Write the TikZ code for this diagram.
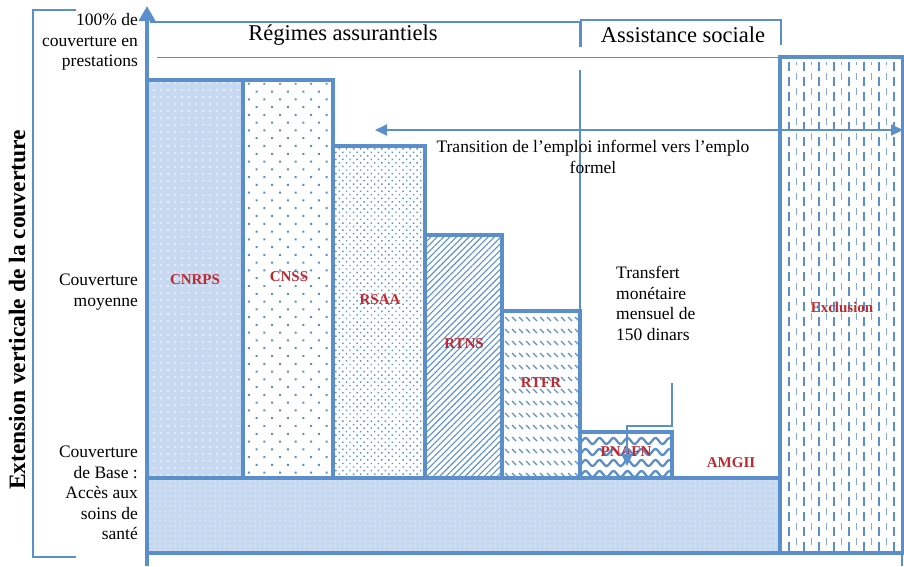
\documentclass[tikz,border=0pt]{standalone}
\usepackage{fontspec}
\setmainfont{Liberation Serif}
\usetikzlibrary{arrows.meta,patterns.meta,positioning}
\definecolor{barblue}{HTML}{5B8FCB}
\definecolor{lightfill}{HTML}{C6D9F0}
\definecolor{labred}{HTML}{C0282E}
\tikzset{
  bar/.style={draw=barblue, line width=3.5pt},
  frame/.style={draw=barblue, line width=1.8pt},
  lab/.style={text=labred, font=\fontsize{15}{15}\selectfont\bfseries},
  txt/.style={font=\fontsize{17.5}{20.5}\selectfont, inner sep=0pt},
  head/.style={font=\fontsize{22.5}{24}\selectfont, inner sep=0pt},
}

\begin{document}
\begin{tikzpicture}[x=1pt,y=-1pt]
    \useasboundingbox (0,0) rectangle (904,566);

    % fills of the bars
    \fill[lightfill] (147,80) rectangle (243,478);
    \fill[pattern={Dots[distance=7pt,radius=0.8pt]}, pattern color=white] (147,80) rectangle (243,478);
    \fill[pattern={Dots[distance=11pt,angle=45,radius=1.4pt]}, pattern color=barblue] (243,80) rectangle (333,478);
    \fill[pattern={Dots[distance=5pt,angle=45,radius=1pt]}, pattern color=barblue] (333,146) rectangle (425,478);
    \fill[pattern={Lines[angle=45,distance=4.5pt,line width=1.1pt]}, pattern color=barblue] (425,235) rectangle (502,478);
    \begin{scope}
        \clip (502,311) rectangle (580,478);
        \foreach \yy in {317,329,...,478}
            \foreach \xx in {498,505,...,580}
                \draw[barblue, line width=1.2pt] (\xx,\yy) -- ++(4,4);
    \end{scope}
    \begin{scope}
        \clip (580,432) rectangle (672,478);
        \foreach \yy in {441,452,...,478}
            \draw[barblue, line width=2.3pt] plot[domain=0:105, samples=80] (575+\x, {\yy+3*sin(\x*25.714)});
    \end{scope}
    \fill[lightfill] (147,478) rectangle (780,553);
    \fill[pattern={Dots[distance=5pt,radius=0.7pt]}, pattern color=white] (147,478) rectangle (780,553);
    \begin{scope}
        \clip (780,57) rectangle (903,553);
        \foreach \xx in {789,804,...,903}
            \draw[barblue, line width=2.8pt, dash pattern=on 9pt off 6pt] (\xx,62) -- (\xx,553);
        \foreach \xx in {796.5,811.5,...,903}
            \draw[barblue!75, line width=1.3pt, dash pattern=on 7pt off 8pt, dash phase=4pt] (\xx,62) -- (\xx,553);
    \end{scope}

    % outlines
    \draw[bar] (147,80) rectangle (243,478);
    \draw[bar] (243,80) rectangle (333,478);
    \draw[bar] (333,146) rectangle (425,478);
    \draw[bar] (425,235) rectangle (502,478);
    \draw[bar] (502,311) rectangle (580,478);
    \draw[bar] (580,432) rectangle (672,478);
    \draw[bar] (147,478) rectangle (780,553);
    \draw[bar] (780,57) rectangle (903,553);
    \draw[barblue, line width=1.5pt] (902,553) -- (902,566);

    % header
    \draw[frame] (150,22) -- (580,22) -- (580,47);
    \draw[frame] (581,47) |- (781,20) -- (781,45);
    \draw[frame] (157,57.5) -- (780,57.5);
    \node[head] (regimes) at (343,35) {Régimes assurantiels};
    \node[head] (assist) at (683,35) {Assistance sociale};

    % axis and bracket
    \draw[barblue, line width=4pt, -{Triangle[length=15pt,width=16pt]}] (147,566) -- (147,6);
    \draw[barblue, line width=1.2pt] (76,10) -| (33,557) -- (76,557);
    \node[font=\fontsize{23.5}{24}\selectfont\bfseries, rotate=90] (ext) at (17,310) {Extension verticale de la couverture};
    \node[txt, align=right, anchor=east] (top) at (138,42) {100\% de\\couverture en\\prestations};
    \node[txt, align=right, anchor=east] (mid) at (138,292) {Couverture\\moyenne};
    \node[txt, align=right, anchor=east] (base) at (138,493) {Couverture\\de Base :\\Accès aux\\soins de\\santé};

    % transition
    \draw[barblue, line width=1.8pt] (580,70) -- (580,311);
    \coordinate (tleft) at (375,130);
    \coordinate (tright) at (903,130);
    \draw[barblue, line width=2pt, {Triangle[length=12pt,width=11pt]}-{Triangle[length=12pt,width=11pt]}] (tleft) -- (tright);
    \node[txt, align=center] (trans) at (593,157) {Transition de l’emploi informel vers l’emplo\\formel};
    \node[txt, align=left, anchor=north west] (transf) at (616,266) {Transfert\\monétaire\\mensuel de\\150 dinars};

    % bar labels
    \node[lab] (cnrps) at (195,280) {CNRPS};
    \node[lab] (cnss) at (289,277) {CNSS};
    \node[lab] (rsaa) at (380,300) {RSAA};
    \node[lab] (rtns) at (464,344) {RTNS};
    \node[lab] (rtfr) at (541,383) {RTFR};
    \node[lab] (pnafn) at (626,452) {PNAFN};
    \node[lab] (amgii) at (731,463) {AMGII};
    \node[lab] (excl) at (842,307) {Exclusion};

    \coordinate (pstart) at (672,383);
    \coordinate (pbend) at (627,426);
    \coordinate (pend) at (627,466);
    \draw[barblue, line width=2.2pt, -{Triangle[length=12pt,width=11pt]}] (pstart) |- (pbend) -- (pend);
\end{tikzpicture}
\end{document}
